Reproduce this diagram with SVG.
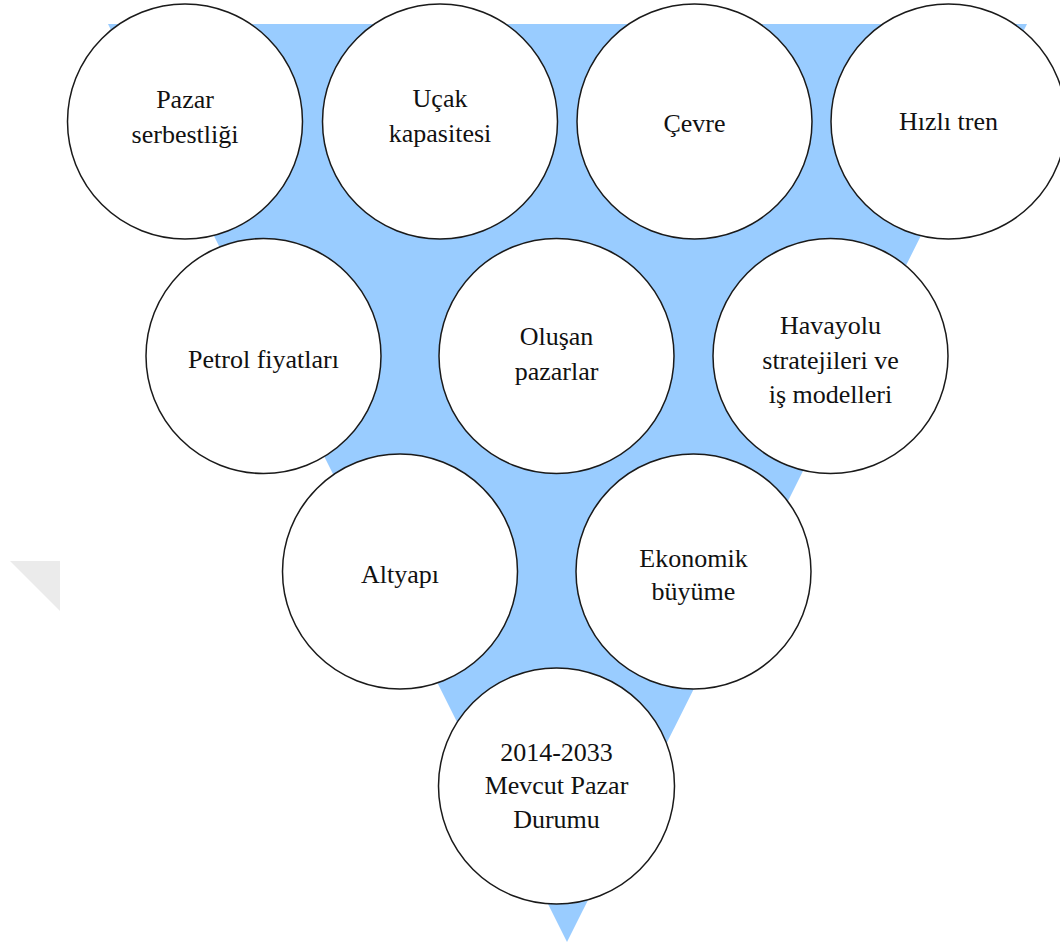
<svg xmlns="http://www.w3.org/2000/svg" width="1060" height="949" viewBox="0 0 1060 949">
<style>
.bg{fill:#ffffff}
.tri{fill:#99ccff}
.wm{fill:#ebebeb}
.node circle{fill:#ffffff;stroke:#1a1a1a;stroke-width:1.5}
.node text{font-family:"Liberation Serif","Times New Roman",serif;font-size:26px;fill:#111111;text-anchor:middle}
</style>
<rect class="bg" x="0" y="0" width="1060" height="949"/>
<polygon class="wm" points="10,561 60,561 60,611"/>
<g id="connectors">
<polygon class="tri" points="108,24 1027,24 567,942"/>
</g>
<g id="n1" class="node"><circle cx="185" cy="121.5" r="117.5"/><text x="185" y="108">Pazar</text><text x="185" y="143">serbestliği</text></g>
<g id="n2" class="node"><circle cx="440" cy="121.5" r="117.5"/><text x="440" y="107">Uçak</text><text x="440" y="142">kapasitesi</text></g>
<g id="n3" class="node"><circle cx="694.5" cy="121.5" r="117.5"/><text x="694.5" y="132">Çevre</text></g>
<g id="n4" class="node"><circle cx="948.5" cy="121.5" r="117.5"/><text x="948.5" y="130">Hızlı tren</text></g>
<g id="n5" class="node"><circle cx="263.5" cy="356" r="117.5"/><text x="263.5" y="368">Petrol fiyatları</text></g>
<g id="n6" class="node"><circle cx="556.5" cy="356" r="117.5"/><text x="556.5" y="345">Oluşan</text><text x="556.5" y="380">pazarlar</text></g>
<g id="n7" class="node"><circle cx="830.5" cy="356" r="117.5"/><text x="830.5" y="334">Havayolu</text><text x="830.5" y="369">stratejileri ve</text><text x="830.5" y="403">iş modelleri</text></g>
<g id="n8" class="node"><circle cx="400" cy="571.5" r="117.5"/><text x="400" y="583">Altyapı</text></g>
<g id="n9" class="node"><circle cx="693.5" cy="571.5" r="117.5"/><text x="693.5" y="567">Ekonomik</text><text x="693.5" y="600">büyüme</text></g>
<g id="n10" class="node"><circle cx="556.5" cy="786" r="118"/><text x="556.5" y="761">2014-2033</text><text x="556.5" y="794">Mevcut Pazar</text><text x="556.5" y="828">Durumu</text></g>
</svg>
